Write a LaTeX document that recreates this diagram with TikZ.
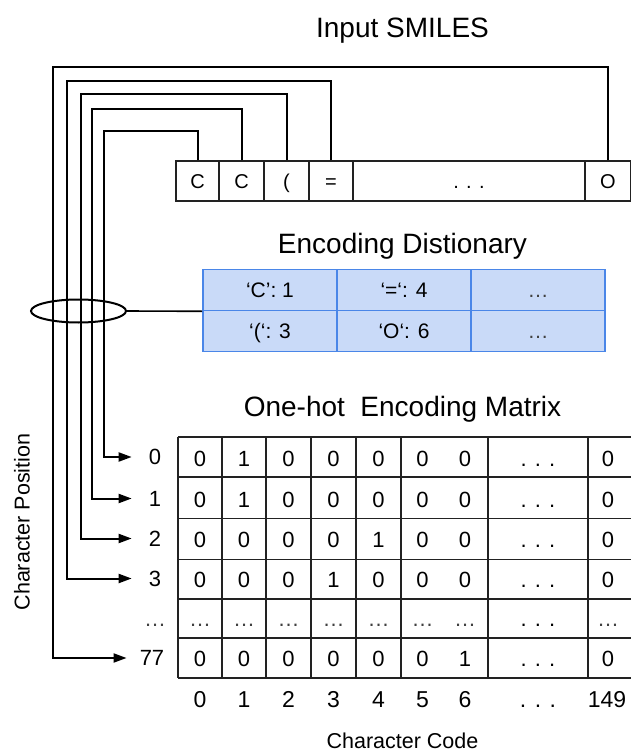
\documentclass[tikz,border=0pt]{standalone}
\usepackage{fontspec}
\setmainfont{Liberation Sans}
\usetikzlibrary{arrows.meta,shapes.geometric}
\definecolor{dictfill}{HTML}{C9DAF8}
\definecolor{dictline}{HTML}{4A86E8}
\definecolor{gridline}{HTML}{222222}
\newcommand{\setfz}[1]{\fontsize{#1}{#1}\selectfont}

\begin{document}
\begin{tikzpicture}[x=1pt,y=-1pt,
  title/.style={font=\setfz{28}, anchor=base, inner sep=0pt},
  % text boxes sized to the cap height so the glyphs sit centred on the anchor
  txt/.style={inner sep=0pt, font=\setfz{#1}, text height=0.716*#1pt, text depth=0pt},
  smcell/.style={txt=20, draw=gridline, line width=1.2pt, minimum height=40pt},
  dcell/.style={txt=21, draw=dictline, fill=dictfill, line width=1.6pt,
    minimum width=134pt, minimum height=41pt},
  mval/.style={txt=22},
  rowlab/.style={txt=22},
  collab/.style={inner sep=0pt, font=\setfz{23}, anchor=base},
  caption/.style={txt=21.5},
  grid/.style={gridline, line width=1.2pt},
  conn/.style={black, line width=2pt},
  tip/.style={-{Triangle[length=13pt,width=9pt]}},
  faint/.style={text=black!75},
]
\useasboundingbox[fill=white] (0,0) rectangle (630,754);

% titles
\node[title] (tin)  at (402.5,38)  {Input SMILES};
\node[title] (tdic) at (402.5,253) {Encoding Distionary};
\node[title] (tmat) at (402.5,416) {One-hot\ \ Encoding Matrix};

% input SMILES string
\node[smcell, minimum width=43pt]  (s1) at (197.5,181) {C};
\node[smcell, minimum width=45pt]  (s2) at (241.5,181) {C};
\node[smcell, minimum width=45pt]  (s3) at (286.5,181) {(};
\node[smcell, minimum width=44pt]  (s4) at (331,181)   {=};
\node[smcell, minimum width=232pt] (s5) at (469,181)   {. . .};
\node[smcell, minimum width=46pt]  (s6) at (608,181)   {O};

% encoding dictionary
\node[dcell] (d11) at (270,290)   {‘C’: 1};
\node[dcell] (d12) at (404,290)   {‘=‘: 4};
\node[dcell] (d13) at (538,290)   {\textcolor{black!75}{…}};
\node[dcell] (d21) at (270,331)   {‘(‘: 3};
\node[dcell] (d22) at (404,331)   {‘O‘: 6};
\node[dcell] (d23) at (538,331)   {\textcolor{black!75}{…}};

% one-hot matrix grid
\foreach \yy in {437,477,518.5,559.5,599,638,678}
  \draw[grid] (178,\yy) -- (632,\yy);
\foreach \xx in {178,222,266,311,356,401,488,588}
  \draw[grid] (\xx,437) -- (\xx,678);

% matrix entries
\foreach \v/\xx [count=\c] in {0/200,1/244,0/288.5,0/333.5,0/378.5,0/422.5,0/465,{. . .}/538,0/608}
  \node[mval] (ma-\c) at (\xx,459) {\v};
\foreach \v/\xx [count=\c] in {0/200,1/244,0/288.5,0/333.5,0/378.5,0/422.5,0/465,{. . .}/538,0/608}
  \node[mval] (mb-\c) at (\xx,499.5) {\v};
\foreach \v/\xx [count=\c] in {0/200,0/244,0/288.5,0/333.5,1/378.5,0/422.5,0/465,{. . .}/538,0/608}
  \node[mval] (mc-\c) at (\xx,540) {\v};
\foreach \v/\xx [count=\c] in {0/200,0/244,0/288.5,1/333.5,0/378.5,0/422.5,0/465,{. . .}/538,0/608}
  \node[mval] (md-\c) at (\xx,580) {\v};
\foreach \xx [count=\c] in {200,244,288.5,333.5,378.5,422.5,465,608}
  \node[mval, faint] (me-\c) at (\xx,619) {…};
\node[mval] (me-dots) at (538,619) {. . .};
\foreach \v/\xx [count=\c] in {0/200,0/244,0/288.5,0/333.5,0/378.5,0/422.5,1/465,{. . .}/538,0/608}
  \node[mval] (mf-\c) at (\xx,659) {\v};

% row labels (character position)
\node[rowlab] (r0)  at (155,457)   {0};
\node[rowlab] (r1)  at (155,498.5) {1};
\node[rowlab] (r2)  at (155,538.5) {2};
\node[rowlab] (r3)  at (155,578.5) {3};
\node[rowlab, faint] (r4) at (155,619) {…};
\node[rowlab] (r77) at (152,658)   {77};

% column labels (character code)
\foreach \v/\xx [count=\c] in {0/200,1/244,2/288.5,3/333.5,4/378.5,5/422.5,6/465,{. . .}/538,149/607}
  \node[collab] (c-\c) at (\xx,707) {\v};

% axis captions
\node[caption] (ccode) at (402.5,741) {Character Code};
\node[caption, rotate=90] (cpos) at (22,522) {Character Position};

% routing corners of the connectors
\coordinate (k1) at (104,131);
\coordinate (k2) at (92,109);
\coordinate (k3) at (80.5,94);
\coordinate (k4) at (67,81);
\coordinate (k5) at (53,67);

% connectors from string characters to matrix rows
\draw[conn, tip, shorten >=17pt] (s1.north) |- (k1) |- (r0.west);
\draw[conn, tip, shorten >=17pt] (s2.north) |- (k2) |- (r1.west);
\draw[conn, tip, shorten >=17pt] (s3.north) |- (k3) |- (r2.west);
\draw[conn, tip, shorten >=17pt] (s4.north) |- (k4) |- (r3.west);
\draw[conn, tip, shorten >=13pt] (s6.north) |- (k5) |- (r77.west);

% bundle lookup into the dictionary
\node[draw, ellipse, line width=2pt, minimum width=95pt, minimum height=23pt, inner sep=0pt] (ell) at (78.5,311) {};
\draw[conn, line width=1.6pt] (ell.east) -- (d11.south west);
\end{tikzpicture}
\end{document}
